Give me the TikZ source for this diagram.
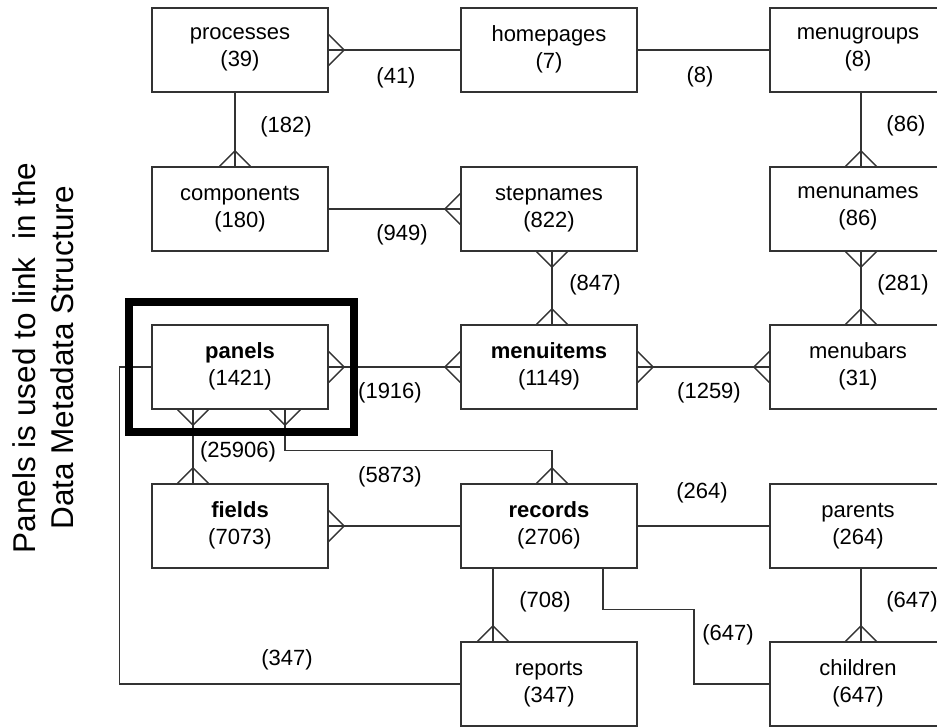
\documentclass[tikz,border=0pt]{standalone}
\usepackage{fontspec}
\setmainfont{Liberation Sans}
\usetikzlibrary{positioning,fit}

\begin{document}
\begin{tikzpicture}[x=1pt, y=-1pt,
  tbl/.style={draw=black!80, line width=1.4pt, minimum width=176pt, minimum height=84pt,
    align=center, inner sep=0pt, font=\fontsize{22}{27}\selectfont,
    execute at begin node=\rule{0pt}{18pt}, execute at end node=\rule[-5pt]{0pt}{5pt}},
  conn/.style={draw=black!80, line width=1.4pt},
  card/.style={inner sep=0pt, font=\fontsize{22}{26.5}\selectfont},
  hilite/.style={draw=black, line width=8pt, inner xsep=23.5pt, inner ysep=22pt},
  crowfoot/.pic={\draw[conn] (0,-15.5) -- (15.5,0) -- (0,15.5);}]

  \useasboundingbox (0,0) rectangle (937,728);
  \clip (0,0) rectangle (937,728);

  % Side note
  \node[rotate=90, align=center, inner sep=0pt, font=\fontsize{31.5}{38}\selectfont] (note) at (43,358)
    {Panels is used to link~ in the\\Data Metadata Structure};

  % Tables, row by row
  \node[tbl] (proc) at (240,50) {processes\\(39)};
  \node[tbl] (home) at (549,50) {homepages\\(7)};
  \node[tbl] (mgrp) at (858,50) {menugroups\\(8)};

  \node[tbl] (comp) at (240,209) {components\\(180)};
  \node[tbl] (stp) at (549,209) {stepnames\\(822)};
  \node[tbl] (mnam) at (858,209) {menunames\\(86)};

  \node[tbl] (pan) at (240,367) {\textbf{panels}\\(1421)};
  \node[tbl] (mitm) at (549,367) {\textbf{menuitems}\\(1149)};
  \node[tbl] (mbar) at (858,367) {menubars\\(31)};

  \node[tbl] (fld) at (240,526) {\textbf{fields}\\(7073)};
  \node[tbl] (rec) at (549,526) {\textbf{records}\\(2706)};
  \node[tbl] (par) at (858,526) {parents\\(264)};

  \node[tbl] (rep) at (549,684) {reports\\(347)};
  \node[tbl] (chl) at (858,684) {children\\(647)};

  % Links between tables
  \draw[conn] (proc.east) -- (home.west);
  \pic at (proc.east) {crowfoot};
  \draw[conn] (home.east) -- (mgrp.west);

  \draw[conn] ([xshift=-5pt]proc.south) -- ([xshift=-5pt]comp.north);
  \pic[rotate=90] at ([xshift=-5pt]comp.north) {crowfoot};
  \draw[conn] ([xshift=3pt]mgrp.south) -- ([xshift=3pt]mnam.north);
  \pic[rotate=90] at ([xshift=3pt]mnam.north) {crowfoot};

  \draw[conn] (comp.east) -- (stp.west);
  \pic[rotate=180] at (stp.west) {crowfoot};

  \draw[conn] ([xshift=3pt]stp.south) -- ([xshift=3pt]mitm.north);
  \pic[rotate=-90] at ([xshift=3pt]stp.south) {crowfoot};
  \pic[rotate=90] at ([xshift=3pt]mitm.north) {crowfoot};
  \draw[conn] ([xshift=3pt]mnam.south) -- ([xshift=3pt]mbar.north);
  \pic[rotate=-90] at ([xshift=3pt]mnam.south) {crowfoot};
  \pic[rotate=90] at ([xshift=3pt]mbar.north) {crowfoot};

  \draw[conn] (pan.east) -- (mitm.west);
  \pic at (pan.east) {crowfoot};
  \pic[rotate=180] at (mitm.west) {crowfoot};
  \draw[conn] (mitm.east) -- (mbar.west);
  \pic at (mitm.east) {crowfoot};
  \pic[rotate=180] at (mbar.west) {crowfoot};

  \draw[conn] ([xshift=-47pt]pan.south) -- ([xshift=-47pt]fld.north);
  \pic[rotate=-90] at ([xshift=-47pt]pan.south) {crowfoot};
  \pic[rotate=90] at ([xshift=-47pt]fld.north) {crowfoot};
  \draw[conn] ([xshift=45pt]pan.south) -- ++(0,41) -| ([xshift=3pt]rec.north);
  \pic[rotate=-90] at ([xshift=45pt]pan.south) {crowfoot};
  \pic[rotate=90] at ([xshift=3pt]rec.north) {crowfoot};

  \draw[conn] (fld.east) -- (rec.west);
  \pic at (fld.east) {crowfoot};
  \draw[conn] (rec.east) -- (par.west);

  \draw[conn] ([xshift=3pt]par.south) -- ([xshift=3pt]chl.north);
  \pic[rotate=90] at ([xshift=3pt]chl.north) {crowfoot};
  \draw[conn] ([xshift=-56pt]rec.south) -- ([xshift=-56pt]rep.north);
  \pic[rotate=90] at ([xshift=-56pt]rep.north) {crowfoot};
  \draw[conn] ([xshift=54pt]rec.south) -- ++(0,41) -- ++(91,0) |- (chl.west);
  \draw[conn] (pan.west) -- ++(-32,0) |- (rep.west);

  % Row counts on the links
  \node[card] (l41) at (396,78) {(41)};
  \node[card] (l8) at (700,77) {(8)};
  \node[card] (l182) at (286,127) {(182)};
  \node[card] (l86) at (906,126) {(86)};
  \node[card] (l949) at (402,235) {(949)};
  \node[card] (l847) at (595,285) {(847)};
  \node[card] (l281) at (903,285) {(281)};
  \node[card] (l1916) at (390,393) {(1916)};
  \node[card] (l1259) at (709,393) {(1259)};
  \node[card] (l25906) at (238,452) {(25906)};
  \node[card] (l5873) at (390,477) {(5873)};
  \node[card] (l264) at (702,493) {(264)};
  \node[card] (l708) at (545,602) {(708)};
  \node[card] (l647a) at (728,635) {(647)};
  \node[card] (l647b) at (912,602) {(647)};
  \node[card] (l347) at (287,660) {(347)};

  % Frame round panels
  \node[hilite, fit=(pan), xshift=1.5pt] (panfrm) {};
\end{tikzpicture}
\end{document}
